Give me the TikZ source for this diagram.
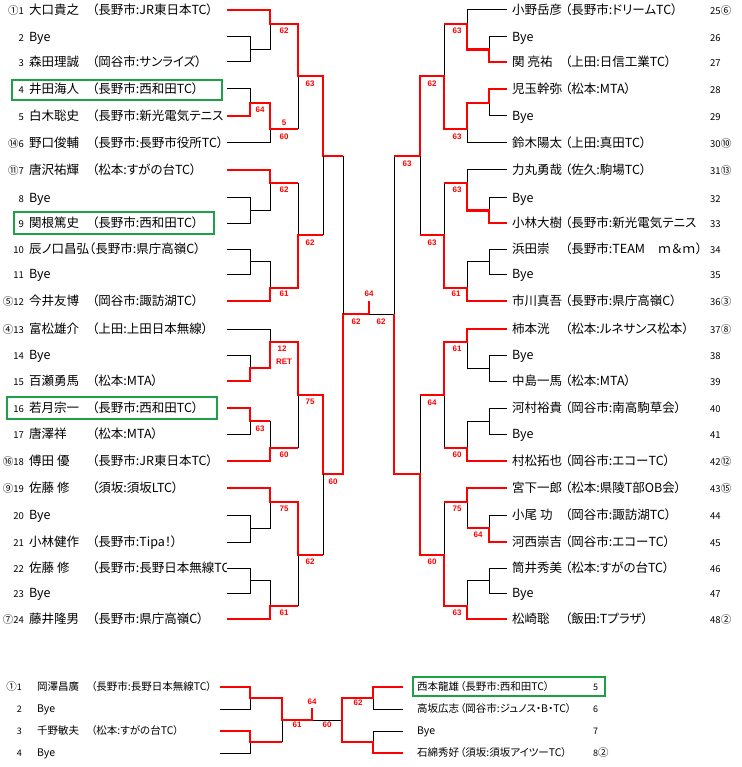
\documentclass[tikz,border=0pt]{standalone}
\usepackage{fontspec}
\setmainfont{Noto Sans CJK JP}[RawFeature=+palt]
\newfontfamily\lsans{Liberation Sans}
\definecolor{boxgreen}{RGB}{30,160,70}
\newcommand\sd[1]{{\fontsize{10.5}{12}\selectfont #1}}
\newcommand\Lrow[5]{%
  \node[numl] (ln#1) at (24,#2+4.5) {#3};
  \node[nm] (lm#1) at (29,#2+4.5) {#4};
  \node[nm] (lc#1) at (92,#2+4.5) {#5};}
\newcommand\Lbye[3]{%
  \node[numl] (ln#1) at (24,#2+4.5) {#3};
  \node[nm] (lm#1) at (29,#2+4.5) {Bye};}
\newcommand\Rrow[5]{%
  \node[nm] (rm#1) at (512,#2+4.5) {#3};
  \node[nm] (rc#1) at (565,#2+4.5) {#4};
  \node[numr] (rn#1) at (710,#2+4.5) {#5};}
\newcommand\Rbye[3]{%
  \node[nm] (rm#1) at (512,#2+4.5) {Bye};
  \node[numr] (rn#1) at (710,#2+4.5) {#3};}
\begin{document}
\begin{tikzpicture}[x=1pt,y=-1pt,
  blk/.style={black,line width=1pt},
  rd/.style={red,line width=2.8pt,line join=miter},
  sc/.style={text=red,font=\lsans\bfseries\fontsize{8}{9}\selectfont,inner sep=0pt},
  nm/.style={anchor=base west,inner sep=0pt,font=\fontsize{12.5}{14}\selectfont},
  numl/.style={anchor=base east,inner sep=0pt,font=\fontsize{9.5}{11}\selectfont},
  numr/.style={anchor=base west,inner sep=0pt,font=\fontsize{9.5}{11}\selectfont},
  bnm/.style={anchor=base west,inner sep=0pt,font=\fontsize{10.5}{12}\selectfont},
  bnum/.style={anchor=base east,inner sep=0pt,font=\fontsize{9}{10}\selectfont},
  bnumr/.style={anchor=base west,inner sep=0pt,font=\fontsize{9}{10}\selectfont},
  gbox/.style={draw=boxgreen,line width=2.8pt}]
\useasboundingbox[fill=white] (0,0) rectangle (741,767);

% ---------- left texts ----------
\begin{scope}
\clip (0,0) rectangle (226,623);
\Lrow{1}{10}{\sd{①}1}{大口貴之}{（長野市:JR東日本TC）}
\Lbye{2}{37}{2}
\Lrow{3}{62}{3}{森田理誠}{（岡谷市:サンライズ）}
\Lrow{4}{89}{4}{井田海人}{（長野市:西和田TC）}
\Lrow{5}{116}{5}{白木聡史}{（長野市:新光電気テニス}
\Lrow{6}{143}{\sd{⑭}6}{野口俊輔}{（長野市:長野市役所TC）}
\Lrow{7}{170}{\sd{⑪}7}{唐沢祐輝}{（松本:すがの台TC）}
\Lbye{8}{198}{8}
\Lrow{9}{223}{9}{関根篤史}{（長野市:西和田TC）}
\node[numl] (ln10) at (24,253.5) {10};
\node[nm] (lm10) at (29,253.5) {辰ノ口昌弘（長野市:県庁高嶺C）};
\Lbye{11}{274}{11}
\Lrow{12}{301}{\sd{⑤}12}{今井友博}{（岡谷市:諏訪湖TC）}
\Lrow{13}{329}{\sd{④}13}{富松雄介}{（上田:上田日本無線）}
\Lbye{14}{355}{14}
\Lrow{15}{381}{15}{百瀬勇馬}{（松本:MTA）}
\Lrow{16}{408}{16}{若月宗一}{（長野市:西和田TC）}
\Lrow{17}{434}{17}{唐澤祥}{（松本:MTA）}
\Lrow{18}{461}{\sd{⑯}18}{傅田 優}{（長野市:JR東日本TC）}
\Lrow{19}{488}{\sd{⑨}19}{佐藤 修}{（須坂:須坂LTC）}
\Lbye{20}{515}{20}
\Lrow{21}{542}{21}{小林健作}{（長野市:Tipa！）}
\Lrow{22}{568}{22}{佐藤 修}{（長野市:長野日本無線TC）}
\Lbye{23}{593}{23}
\Lrow{24}{619}{\sd{⑦}24}{藤井隆男}{（長野市:県庁高嶺C）}
\end{scope}

% ---------- right texts ----------
\begin{scope}
\clip (508,0) rectangle (703,640);
\Rrow{25}{10}{小野岳彦}{（長野市:ドリームTC）}{}
\Rrow{27}{62}{関 亮祐}{（上田:日信工業TC）}{}
\Rrow{28}{89}{児玉幹弥}{（松本:MTA）}{}
\Rrow{30}{143}{鈴木陽太}{（上田:真田TC）}{}
\Rrow{31}{170}{力丸勇哉}{（佐久:駒場TC）}{}
\Rrow{33}{223}{小林大樹}{（長野市:新光電気テニス}{}
\Rrow{34}{249}{浜田崇}{（長野市:TEAM　ｍ＆ｍ）}{}
\Rrow{36}{301}{市川真吾}{（長野市:県庁高嶺C）}{}
\Rrow{37}{329}{柿本洸}{（松本:ルネサンス松本）}{}
\Rrow{39}{381}{中島一馬}{（松本:MTA）}{}
\Rrow{40}{408}{河村裕貴}{（岡谷市:南高駒草会）}{}
\Rrow{42}{461}{村松拓也}{（岡谷市:エコーTC）}{}
\Rrow{43}{488}{宮下一郎}{（松本:県陵T部OB会）}{}
\Rrow{44}{515}{小尾 功}{（岡谷市:諏訪湖TC）}{}
\Rrow{45}{542}{河西崇吉}{（岡谷市:エコーTC）}{}
\Rrow{46}{568}{筒井秀美}{（松本:すがの台TC）}{}
\Rrow{48}{619}{松崎聡}{（飯田:Tプラザ）}{}
\node[nm] (rm26) at (512,41.5) {Bye};
\node[nm] (rm29) at (512,120.5) {Bye};
\node[nm] (rm32) at (512,202.5) {Bye};
\node[nm] (rm35) at (512,278.5) {Bye};
\node[nm] (rm38) at (512,359.5) {Bye};
\node[nm] (rm41) at (512,438.5) {Bye};
\node[nm] (rm47) at (512,597.5) {Bye};
\end{scope}
\foreach \n/\yy/\s in {25/10/⑥,26/37/,27/62/,28/89/,29/116/,30/143/⑩,31/170/⑬,32/198/,33/223/,34/249/,35/274/,36/301/③,37/329/⑧,38/355/,39/381/,40/408/,41/434/,42/461/⑫,43/488/⑮,44/515/,45/542/,46/568/,47/593/,48/619/②}
  \node[numr] (rn\n) at (710,\yy+4.5) {\n\sd{\s}};

% ---------- green boxes ----------
\draw[gbox] (12,80) rectangle (222,100);
\draw[gbox] (14,212) rectangle (214,234);
\draw[gbox] (7,397) rectangle (217,419);
\draw[gbox] (413,677) rectangle (605,696);

% ---------- left bracket ----------
\draw[blk] (227,37)--(250,37)--(250,62)--(227,62);
\draw[blk] (250,49.5)--(270,49.5)--(270,24);
\draw[blk] (227,89)--(250,89)--(250,103);
\draw[blk] (270,129)--(270,143)--(227,143);
\draw[blk] (298,76)--(298,129);
\draw[rd] (227,10)--(270,10)--(270,24)--(298,24)--(298,76)--(323,76)--(323,156)--(343,156);
\draw[rd] (227,116)--(250,116)--(250,103)--(270,103)--(270,129)--(298,129);

\draw[blk] (227,198)--(250,198)--(250,223)--(227,223);
\draw[blk] (250,210.5)--(270,210.5)--(270,183);
\draw[blk] (227,249)--(250,249)--(250,274)--(227,274);
\draw[blk] (250,261.5)--(270,261.5)--(270,288);
\draw[blk] (298,183)--(298,235);
\draw[blk] (323,156)--(323,235);
\draw[rd] (227,170)--(270,170)--(270,183)--(298,183);
\draw[rd] (227,301)--(270,301)--(270,288)--(298,288)--(298,235)--(323,235);

\draw[blk] (227,329)--(270,329)--(270,342);
\draw[blk] (227,355)--(250,355)--(250,368);
\draw[blk] (227,434)--(250,434)--(250,421);
\draw[blk] (270,421)--(270,448);
\draw[blk] (298,395)--(298,448);
\draw[rd] (227,381)--(250,381)--(250,368)--(270,368)--(270,342)--(298,342)--(298,395)--(323,395)--(323,474)--(343,474)--(343,314)--(369,314)--(369,301);
\draw[rd] (227,408)--(250,408)--(250,421)--(270,421);
\draw[rd] (227,461)--(270,461)--(270,448)--(298,448);

\draw[blk] (227,515)--(250,515)--(250,542)--(227,542);
\draw[blk] (250,528.5)--(270,528.5)--(270,502);
\draw[blk] (227,568)--(250,568)--(250,593)--(227,593);
\draw[blk] (250,580.5)--(270,580.5)--(270,606);
\draw[blk] (298,555)--(298,606);
\draw[blk] (323,474)--(323,555);
\draw[rd] (227,488)--(270,488)--(270,502)--(298,502)--(298,555)--(323,555);
\draw[rd] (227,619)--(270,619)--(270,606)--(298,606);

% ---------- centre ----------
\draw[blk] (343,156)--(343,314);
\draw[blk] (369,314)--(394,314)--(394,156);

% ---------- right bracket ----------
\draw[blk] (507,10)--(467,10)--(467,24);
\draw[blk] (507,37)--(489,37)--(489,49.5);
\draw[blk] (489,103)--(489,116)--(507,116);
\draw[blk] (467,129)--(467,143)--(507,143);
\draw[blk] (444,24)--(444,76);
\draw[rd] (507,62)--(489,62)--(489,49.5)--(467,49.5)--(467,24)--(444,24);
\draw[rd] (507,89)--(489,89)--(489,103)--(467,103)--(467,129)--(444,129)--(444,76)--(420,76)--(420,156)--(394,156);

\draw[blk] (507,170)--(467,170)--(467,183);
\draw[blk] (507,198)--(489,198)--(489,210.5);
\draw[blk] (507,249)--(489,249)--(489,274)--(507,274);
\draw[blk] (489,261.5)--(467,261.5)--(467,288);
\draw[blk] (444,183)--(444,235);
\draw[blk] (420,156)--(420,235);
\draw[rd] (507,223)--(489,223)--(489,210.5)--(467,210.5)--(467,183)--(444,183);
\draw[rd] (507,301)--(467,301)--(467,288)--(444,288)--(444,235)--(420,235);

\draw[blk] (507,355)--(489,355)--(489,381)--(507,381);
\draw[blk] (489,368)--(467,368)--(467,342);
\draw[blk] (507,408)--(489,408)--(489,434)--(507,434);
\draw[blk] (489,421)--(467,421)--(467,448);
\draw[blk] (444,395)--(444,448);
\draw[blk] (420,395)--(420,474);
\draw[rd] (507,329)--(467,329)--(467,342)--(444,342)--(444,395)--(420,395);
\draw[rd] (507,461)--(467,461)--(467,448)--(444,448);

\draw[blk] (467,502)--(467,528);
\draw[blk] (507,515)--(489,515)--(489,528);
\draw[blk] (507,568)--(489,568)--(489,593)--(507,593);
\draw[blk] (489,580.5)--(467,580.5)--(467,606);
\draw[blk] (444,502)--(444,555);
\draw[rd] (507,488)--(467,488)--(467,502)--(444,502);
\draw[rd] (507,542)--(489,542)--(489,528)--(467,528);
\draw[rd] (394,314)--(394,474)--(420,474)--(420,555)--(444,555)--(444,606)--(467,606)--(467,619)--(507,619);

% ---------- scores ----------
\node[sc] (s1) at (284,31) {62};
\node[sc] (s2) at (260,110) {64};
\node[sc] (s3) at (284,123) {5};
\node[sc] (s4) at (284,137) {60};
\node[sc] (s5) at (310,84) {63};
\node[sc] (s6) at (284,190) {62};
\node[sc] (s7) at (284,294) {61};
\node[sc] (s8) at (310,243) {62};
\node[sc] (s9) at (282,349) {12};
\node[sc] (s10) at (284,362) {RET};
\node[sc] (s11) at (260,429) {63};
\node[sc] (s12) at (284,455) {60};
\node[sc] (s13) at (310,402) {75};
\node[sc] (s14) at (333,482) {60};
\node[sc] (s15) at (284,509) {75};
\node[sc] (s16) at (310,562) {62};
\node[sc] (s17) at (284,613) {61};
\node[sc] (s18) at (369,294) {64};
\node[sc] (s19) at (356,322) {62};
\node[sc] (s20) at (381,322) {62};
\node[sc] (s21) at (457,31) {63};
\node[sc] (s22) at (432,84) {62};
\node[sc] (s23) at (457,137) {63};
\node[sc] (s24) at (407,164) {63};
\node[sc] (s25) at (457,190) {63};
\node[sc] (s26) at (432,243) {63};
\node[sc] (s27) at (456,294) {61};
\node[sc] (s28) at (457,349) {61};
\node[sc] (s29) at (432,403) {64};
\node[sc] (s30) at (457,455) {60};
\node[sc] (s31) at (457,509) {75};
\node[sc] (s32) at (478,535) {64};
\node[sc] (s33) at (432,562) {60};
\node[sc] (s34) at (457,613) {63};

% ---------- bottom draw ----------
\node[bnum] (bn1) at (22,690.8) {\sd{①}1};
\node[bnum] (bn2) at (22,712.8) {2};
\node[bnum] (bn3) at (22,734.8) {3};
\node[bnum] (bn4) at (22,756.8) {4};
\node[bnm] (bm1) at (37,690.8) {岡澤昌廣};
\node[bnm] (bc1) at (91,690.8) {（長野市:長野日本無線TC）};
\node[bnm] (bm2) at (37,712.8) {Bye};
\node[bnm] (bm3) at (37,734.8) {千野敏夫};
\node[bnm] (bc3) at (91,734.8) {（松本:すがの台TC）};
\node[bnm] (bm4) at (37,756.8) {Bye};
\node[bnm] (bm5) at (417,690.8) {西本龍雄};
\node[bnm] (bc5) at (460,690.8) {（長野市:西和田TC）};
\node[bnm] (bm6) at (417,712.8) {高坂広志};
\node[bnm] (bc6) at (460,712.8) {（岡谷市:ジュノス・B・TC）};
\node[bnm] (bm7) at (417,734.8) {Bye};
\node[bnm] (bm8) at (417,756.8) {石綿秀好};
\node[bnm] (bc8) at (460,756.8) {（須坂:須坂アイツーTC）};
\node[bnumr] (bn5) at (593,690.8) {5};
\node[bnumr] (bn6) at (593,712.8) {6};
\node[bnumr] (bn7) at (593,734.8) {7};
\node[bnumr] (bn8) at (593,756.8) {8\sd{②}};

\draw[blk] (220,709)--(250,709)--(250,698);
\draw[blk] (220,753)--(250,753)--(250,742);
\draw[blk] (282,720)--(282,742);
\draw[blk] (312,720)--(342,720);
\draw[blk] (403,709)--(373,709)--(373,698);
\draw[blk] (403,731)--(373,731)--(373,742);
\draw[rd] (220,687)--(250,687)--(250,698)--(282,698)--(282,720)--(312,720)--(312,708);
\draw[rd] (220,731)--(250,731)--(250,742)--(282,742);
\draw[rd] (403,687)--(373,687)--(373,698)--(342,698)--(342,742)--(373,742)--(373,753)--(403,753);

\node[sc] (s35) at (312,702) {64};
\node[sc] (s36) at (297,725) {61};
\node[sc] (s37) at (327,725) {60};
\node[sc] (s38) at (358,703) {62};
\end{tikzpicture}
\end{document}
